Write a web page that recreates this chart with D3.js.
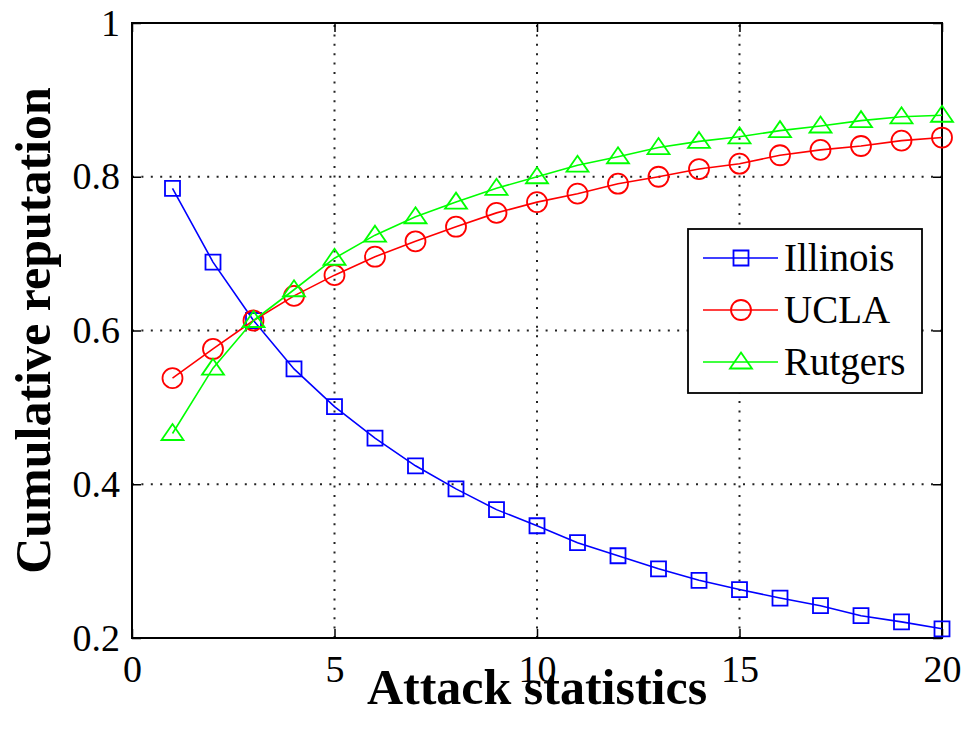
<!DOCTYPE html>
<html>
<head>
<meta charset="utf-8">
<script src="https://cdn.jsdelivr.net/npm/d3@7"></script>
</head>
<body style="margin:0; background:#fff">
<script>
const width = 963;
const height = 737;

const attacks = d3.range(1, 21);
const illinois = [0.785, 0.689, 0.613, 0.550, 0.501, 0.460, 0.424, 0.394, 0.367, 0.346,
                  0.324, 0.307, 0.290, 0.275, 0.263, 0.252, 0.242, 0.229, 0.221, 0.212];
const ucla = [0.538, 0.576, 0.613, 0.645, 0.672, 0.696, 0.716, 0.735, 0.753, 0.767,
              0.778, 0.791, 0.800, 0.810, 0.817, 0.828, 0.835, 0.840, 0.847, 0.851];
const rutgers = [0.466, 0.551, 0.613, 0.653, 0.694, 0.724, 0.748, 0.767, 0.785, 0.800,
                 0.815, 0.826, 0.838, 0.846, 0.852, 0.860, 0.866, 0.873, 0.878, 0.880];
const xTicks = [0, 5, 10, 15, 20];
const yTicks = [0.2, 0.4, 0.6, 0.8, 1];
const yTickLabels = ["0.2", "0.4", "0.6", "0.8", "1"];

const series = [
    {name: "Illinois", values: illinois, color: "#0000ff", marker: "square"},
    {name: "UCLA", values: ucla, color: "#ff0000", marker: "circle"},
    {name: "Rutgers", values: rutgers, color: "#00ff00", marker: "triangle"}
];

const plotLeft = 132, plotRight = 942, plotTop = 23, plotBottom = 638;
const serif = "'Liberation Serif'";

let x = d3.scaleLinear().domain([0, 20]).range([plotLeft, plotRight]);
let y = d3.scaleLinear().domain([0.2, 1]).range([plotBottom, plotTop]);

let svg = d3.select("body")
    .append("svg")
    .attr("width", width)
    .attr("height", height);

// dotted grid
let grid = svg.append("g")
    .attr("stroke", "#222")
    .attr("stroke-width", 2)
    .attr("stroke-dasharray", "2,7.4");
grid.selectAll("line.gx")
    .data(xTicks.slice(1, -1))
    .enter().append("line")
    .attr("x1", (d)=>x(d)).attr("x2", (d)=>x(d))
    .attr("y1", plotBottom).attr("y2", plotTop);
grid.selectAll("line.gy")
    .data(yTicks.slice(1, -1))
    .enter().append("line")
    .attr("y1", (d)=>y(d)).attr("y2", (d)=>y(d))
    .attr("x1", plotLeft).attr("x2", plotRight);

// axes, ticks pointing inward on all sides
function styleAxis(g){
    g.select(".domain").remove();
    g.selectAll(".tick line").attr("stroke", "#000").attr("stroke-width", 1.5);
    g.selectAll(".tick text")
        .attr("fill", "#000")
        .style("font-family", serif)
        .style("font-size", "38px");
}

svg.append("g")
    .attr("transform", "translate(0," + plotBottom + ")")
    .call(d3.axisBottom(x).tickValues(xTicks).tickSize(-9).tickPadding(17))
    .call(styleAxis);
svg.append("g")
    .attr("transform", "translate(0," + plotTop + ")")
    .call(d3.axisTop(x).tickValues(xTicks).tickSize(-9).tickFormat(""))
    .call(styleAxis);
svg.append("g")
    .attr("transform", "translate(" + plotLeft + ",0)")
    .call(d3.axisLeft(y).tickValues(yTicks).tickSize(-9).tickPadding(12)
        .tickFormat((d, i)=>yTickLabels[i]))
    .call(styleAxis);
svg.append("g")
    .attr("transform", "translate(" + plotRight + ",0)")
    .call(d3.axisRight(y).tickValues(yTicks).tickSize(-9).tickFormat(""))
    .call(styleAxis);

svg.append("rect")
    .attr("x", plotLeft).attr("y", plotTop)
    .attr("width", plotRight - plotLeft).attr("height", plotBottom - plotTop)
    .attr("fill", "none")
    .attr("stroke", "#000")
    .attr("stroke-width", 2);

// marker paths
function markerPath(type){
    if (type === "square") return "M-7.5,-7.5H7.5V7.5H-7.5Z";
    if (type === "circle") return "M-10,0A10,10 0 1,0 10,0A10,10 0 1,0 -10,0Z";
    return "M0,-9.5L11,6.5H-11Z";
}

let line = d3.line()
    .x((d)=>x(d[0]))
    .y((d)=>y(d[1]));

series.forEach((s)=>{
    let pts = attacks.map((a, i)=>[a, s.values[i]]);
    let g = svg.append("g");
    g.append("path")
        .datum(pts)
        .attr("d", line)
        .attr("fill", "none")
        .attr("stroke", s.color)
        .attr("stroke-width", 1.6);
    g.selectAll("path.mk")
        .data(pts)
        .enter().append("path")
        .attr("class", "mk")
        .attr("transform", (d)=>"translate(" + x(d[0]) + "," + y(d[1]) + ")")
        .attr("d", markerPath(s.marker))
        .attr("fill", "none")
        .attr("stroke", s.color)
        .attr("stroke-width", 1.8);
});

// legend
let legend = svg.append("g");
legend.append("rect")
    .attr("x", 688).attr("y", 229)
    .attr("width", 234).attr("height", 164)
    .attr("fill", "#fff")
    .attr("stroke", "#000")
    .attr("stroke-width", 1.8);

let rows = legend.selectAll("g.row")
    .data(series)
    .enter().append("g")
    .attr("class", "row")
    .attr("transform", (d, i)=>"translate(0," + (258 + i * 52) + ")");
rows.append("line")
    .attr("x1", 703).attr("x2", 778)
    .attr("stroke", (d)=>d.color)
    .attr("stroke-width", 1.6);
rows.append("path")
    .attr("transform", "translate(741,0)")
    .attr("d", (d)=>markerPath(d.marker))
    .attr("fill", "none")
    .attr("stroke", (d)=>d.color)
    .attr("stroke-width", 1.8);
rows.append("text")
    .attr("x", 784)
    .attr("y", 0)
    .attr("dy", "0.33em")
    .attr("fill", "#000")
    .style("font-family", serif)
    .style("font-size", "39px")
    .text((d)=>d.name);

// axis titles
svg.append("text")
    .attr("x", (plotLeft + plotRight) / 2)
    .attr("y", 704)
    .attr("text-anchor", "middle")
    .style("font-family", serif)
    .style("font-size", "50px")
    .style("font-weight", "bold")
    .text("Attack statistics");

svg.append("text")
    .attr("transform", "translate(50," + (plotTop + plotBottom) / 2 + ") rotate(-90)")
    .attr("text-anchor", "middle")
    .style("font-family", serif)
    .style("font-size", "50px")
    .style("font-weight", "bold")
    .text("Cumulative reputation");
</script>
</body>
</html>
